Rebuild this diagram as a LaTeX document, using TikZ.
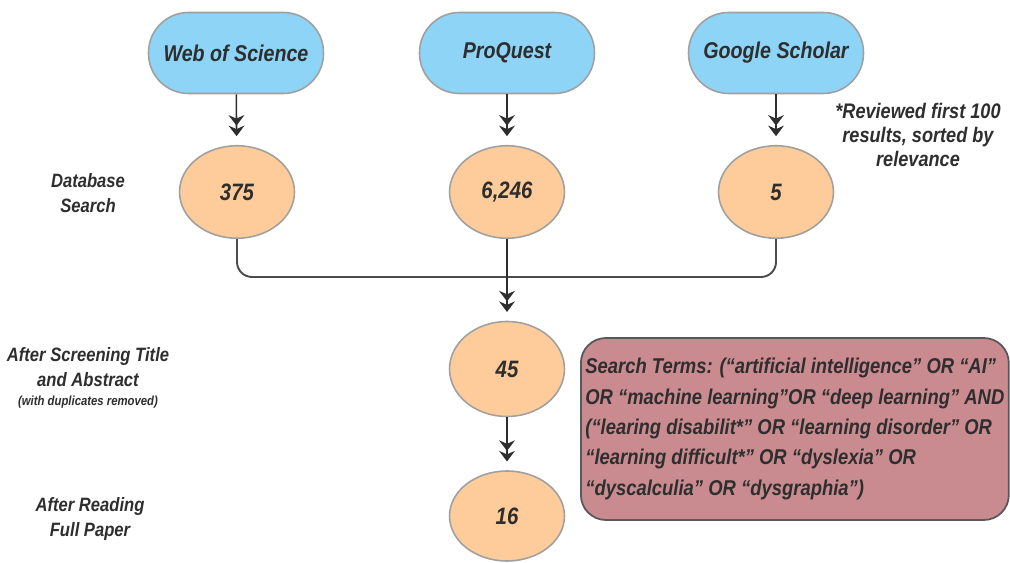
\documentclass[tikz,border=0pt]{standalone}
\usepackage{fontspec}
\setmainfont[FakeStretch=0.86]{Liberation Sans}
\usetikzlibrary{arrows.meta,shapes.geometric,positioning}
\definecolor{pillblue}{HTML}{8ED4F6}
\definecolor{peach}{HTML}{FDCC9A}
\definecolor{rose}{HTML}{C98B90}
\definecolor{ink}{HTML}{2E2E2E}
\definecolor{rim}{HTML}{A0A0A0}
\begin{document}
\begin{tikzpicture}[x=.02cm,y=-.02cm,line width=.9pt,text=ink,
  pill/.style={draw=rim,fill=pillblue,rounded corners=.8cm,minimum width=3.5cm,minimum height=1.62cm,
    font=\bfseries\itshape\fontsize{13}{16}\selectfont},
  count/.style={ellipse,draw=rim,fill=peach,inner sep=0pt,minimum width=2.3cm,minimum height=1.85cm,
    font=\bfseries\itshape\fontsize{13.5}{16}\selectfont},
  stagelbl/.style={align=center,font=\bfseries\itshape\fontsize{11}{14}\selectfont},
  flow/.style={draw=ink,shorten >=5pt,-{Stealth[length=6pt,width=9pt,inset=2pt]Stealth[length=6pt,width=9pt,inset=2pt]}},
  mergeline/.style={draw=ink!85,line width=1.1pt,rounded corners=.3cm}]
\useasboundingbox (0,0) rectangle (1010,563);
% sources
\node[pill] (wos) at (236,53) {Web of Science};
\node[pill] (pq) at (507,53) {ProQuest};
\node[pill] (gs) at (776,53) {Google Scholar};
% counts
\node[count] (n375) at (237,192) {375};
\node[count] (n6246) at (507,192) {6,246};
\node[count] (n5) at (776,192) {5};
\node[count,minimum height=1.9cm] (n45) at (507,369) {45};
\node[count,minimum height=1.8cm] (n16) at (507,516) {16};
% labels
\node[stagelbl] (dbl) at (88,193) {Database\\Search};
\node[stagelbl,anchor=north] (scrl) at (88,341) {After Screening Title\\and Abstract\\[-3pt]{\fontsize{7.5}{9}\selectfont(with duplicates removed)}};
\node[stagelbl] (fpl) at (90,519) {After Reading\\Full Paper};
\node[stagelbl,font=\bfseries\itshape\fontsize{12}{13.5}\selectfont] (note) at (918,135) {*Reviewed first 100\\results, sorted by\\relevance};
% search terms
\node[draw=ink!80,fill=rose,rounded corners=.5cm,line width=1pt,minimum width=8.56cm,minimum height=3.64cm,
  inner sep=2pt,anchor=west,align=left,font=\bfseries\itshape\fontsize{12.2}{17.3}\selectfont] (terms) at (580,429)
  {Search Terms: (“artificial intelligence” OR “AI”\\
   OR “machine learning”OR “deep learning” AND\\
   (“learing disabilit*” OR “learning disorder” OR\\
   “learning difficult*” OR “dyslexia” OR\\
   “dyscalculia” OR “dysgraphia”)};
% connectors
\draw[flow] (wos) -- (n375);
\draw[flow] (pq) -- (n6246);
\draw[flow] (gs) -- (n5);
\draw[mergeline] (n375.south) |- (n5.south |- 0,277) -- (n5.south);
\draw[flow] (n6246) -- (n45);
\draw[flow] (n45) -- (n16);
\end{tikzpicture}
\end{document}
